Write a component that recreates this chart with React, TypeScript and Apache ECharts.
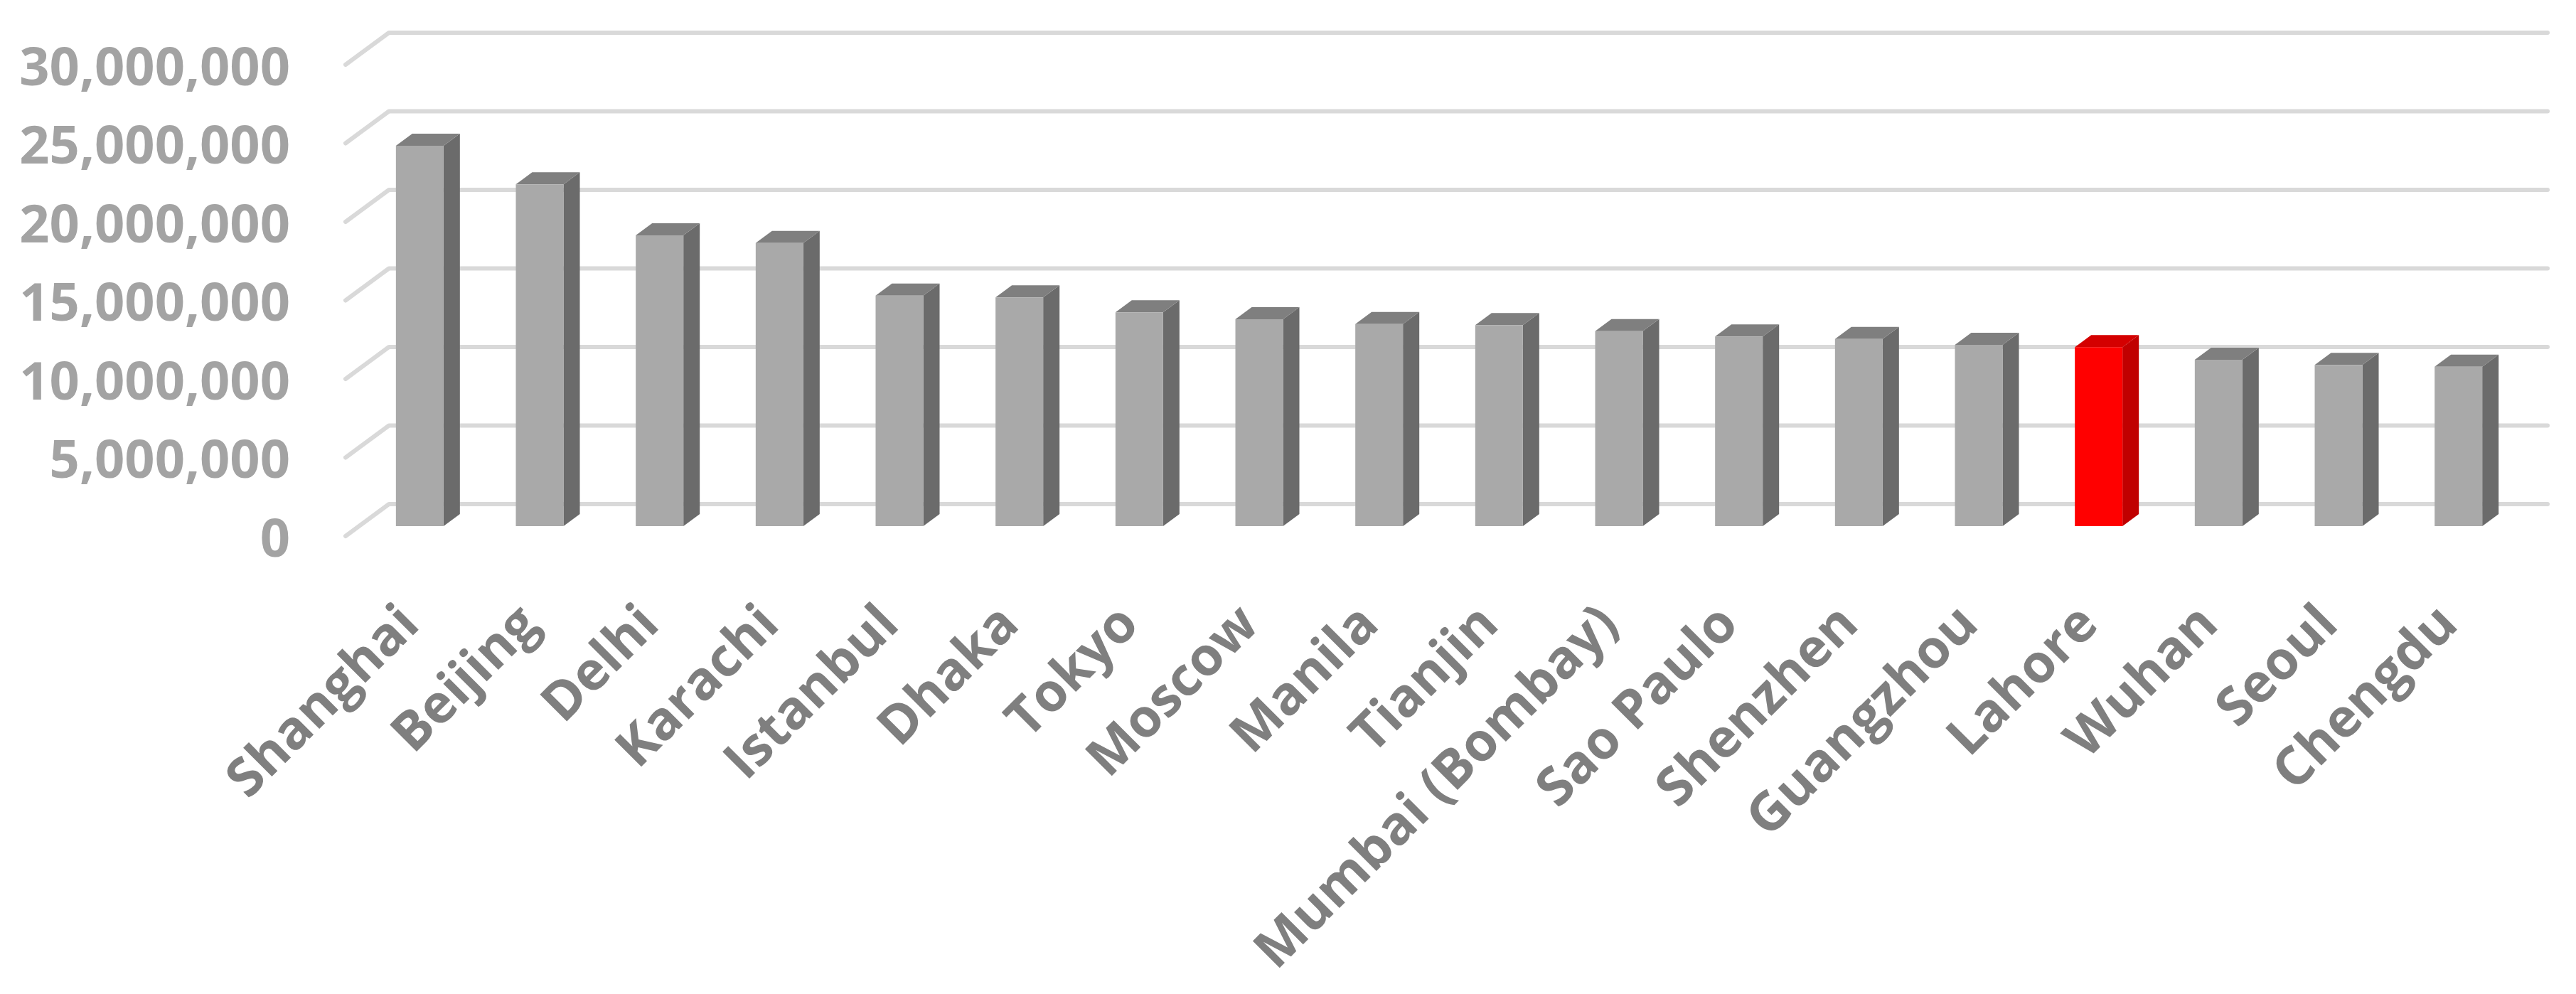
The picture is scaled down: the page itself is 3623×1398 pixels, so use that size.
import React, { useEffect, useRef } from "react";
import * as echarts from "echarts";

const cities = [
  "Shanghai",
  "Beijing",
  "Delhi",
  "Karachi",
  "Istanbul",
  "Dhaka",
  "Tokyo",
  "Moscow",
  "Manila",
  "Tianjin",
  "Mumbai (Bombay)",
  "Sao Paulo",
  "Shenzhen",
  "Guangzhou",
  "Lahore",
  "Wuhan",
  "Seoul",
  "Chengdu",
];

const population = [
  24210000, 21750000, 18510000, 18020000, 14670000, 14560000, 13610000,
  13170000, 12860000, 12790000, 12410000, 12070000, 11910000, 11540000,
  11390000, 10590000, 10260000, 10150000,
];

const highlightCity = "Lahore";

const yTicks = [0, 5000000, 10000000, 15000000, 20000000, 25000000, 30000000];

// 3D look (styles)
const BAR_LIFT = 14; // bar front plane sits a bit behind the front edge of the floor
const BAR_SHIFT_X = 18; // bars sit a little right of the label anchors
const FLOOR_SHIFT_X = 2; // floor front edge relative to grid left
const WALL_DX = 61;
const WALL_DY = -45;
const BAR_HALF = 33.5;
const BAR_DX = 23;
const BAR_DY = -17;

const grayFaces = { front: "#A9A9A9", side: "#6B6B6B", top: "#7F7F7F" };
const redFaces = { front: "#FF0000", side: "#C00000", top: "#D40000" };

const fmt = (v: number) =>
  String(v).replace(/\B(?=(\d{3})+(?!\d))/g, ",");

export default function App() {
  const ref = useRef<HTMLDivElement>(null);

  useEffect(() => {
    if (!ref.current) return;
    const chart = echarts.init(ref.current, null, { renderer: "svg" });

    const option: any = {
      animation: false,
      backgroundColor: "#FFFFFF",
      grid: { left: 488, right: 99, top: 91, bottom: 644, containLabel: false },
      xAxis: {
        type: "category",
        data: cities,
        axisLine: { show: false },
        axisTick: { show: false },
        splitLine: { show: false },
        axisLabel: {
          interval: 0,
          rotate: 45,
          margin: 107,
          fontFamily: "Open Sans",
          fontWeight: "bold",
          fontSize: 75,
          color: "#7F7F7F",
        },
      },
      yAxis: {
        type: "value",
        min: 0,
        max: 30000000,
        interval: 5000000,
        axisLine: { show: false },
        axisTick: { show: false },
        splitLine: { show: false },
        axisLabel: {
          margin: 80,
          fontFamily: "Open Sans",
          fontWeight: "bold",
          fontSize: 74,
          color: "#A3A3A3",
          formatter: (v: number) => fmt(v),
        },
      },
      series: [
        {
          type: "custom",
          name: "grid",
          clip: false,
          z: 1,
          silent: true,
          data: yTicks.map((t) => [0, t]),
          encode: { x: 0, y: 1 },
          renderItem: (params: any, api: any) => {
            const cs = params.coordSys;
            const y = api.coord([0, api.value(1)])[1];
            const fx = cs.x - FLOOR_SHIFT_X;
            return {
              type: "polyline",
              shape: {
                points: [
                  [fx, y],
                  [fx + WALL_DX, y + WALL_DY],
                  [fx + cs.width + WALL_DX, y + WALL_DY],
                ],
              },
              style: {
                stroke: "#D9D9D9",
                lineWidth: 6,
                fill: null,
                lineCap: "round",
                lineJoin: "round",
              },
            };
          },
        },
        {
          type: "custom",
          name: "Population",
          clip: false,
          z: 2,
          data: population.map((v, i) => [i, v]),
          encode: { x: 0, y: 1 },
          renderItem: (params: any, api: any) => {
            const i = api.value(0);
            const v = api.value(1);
            const top = api.coord([i, v]);
            const base = api.coord([i, 0]);
            const cx = top[0] + BAR_SHIFT_X;
            const yt = top[1] - BAR_LIFT;
            const yb = base[1] - BAR_LIFT;
            const c = cities[i] === highlightCity ? redFaces : grayFaces;
            const l = cx - BAR_HALF;
            const r = cx + BAR_HALF;
            return {
              type: "group",
              children: [
                {
                  type: "polygon",
                  shape: {
                    points: [
                      [r, yb],
                      [r, yt],
                      [r + BAR_DX, yt + BAR_DY],
                      [r + BAR_DX, yb + BAR_DY],
                    ],
                  },
                  style: { fill: c.side },
                },
                {
                  type: "polygon",
                  shape: {
                    points: [
                      [l, yt],
                      [r, yt],
                      [r + BAR_DX, yt + BAR_DY],
                      [l + BAR_DX, yt + BAR_DY],
                    ],
                  },
                  style: { fill: c.top },
                },
                {
                  type: "rect",
                  shape: { x: l, y: yt, width: r - l, height: yb - yt },
                  style: { fill: c.front },
                },
              ],
            };
          },
        },
      ],
    };

    chart.setOption(option);
    return () => chart.dispose();
  }, []);

  return (
    <div
      ref={ref}
      style={{
        position: "fixed",
        left: 0,
        top: 0,
        width: 3623,
        height: 1398,
        background: "#FFFFFF",
      }}
    />
  );
}
